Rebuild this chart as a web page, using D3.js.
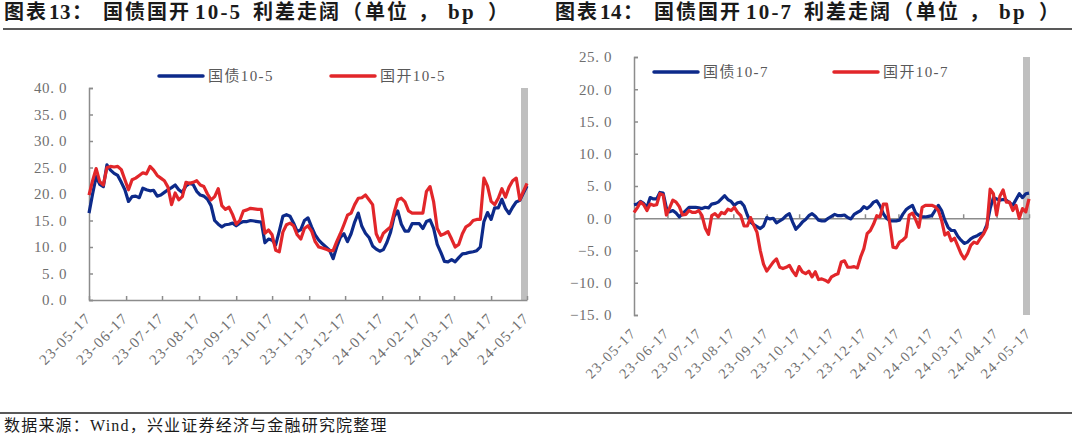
<!DOCTYPE html>
<html><head><meta charset="utf-8">
<script src="https://cdn.jsdelivr.net/npm/d3@7"></script>
<style>
html,body{margin:0;padding:0;background:#fff;}
svg{display:block;}
</style></head>
<body>
<svg id="c" width="1080" height="434"></svg>
<script>
// ---- data (sampled every 3 days from 2023-05-17 to 2024-05-17) ----
const startDate = "2023-05-17";
const endDate = "2024-05-17";
const stepDays = 3;
const tickLabels = ["23-05-17","23-06-17","23-07-17","23-08-17","23-09-17","23-10-17","23-11-17","23-12-17","24-01-17","24-02-17","24-03-17","24-04-17","24-05-17"];

const gz105 = [16.4,20.0,23.3,21.8,21.4,25.5,24.5,23.9,23.5,22.2,20.8,18.6,19.5,19.6,19.3,21.1,20.8,20.6,20.7,19.6,
19.8,20.3,20.8,21.2,21.7,20.8,20.3,21.5,22.0,21.8,20.5,19.8,19.6,19.0,17.8,15.0,14.3,13.8,14.2,14.3,
14.5,14.0,14.5,14.8,14.8,15.0,14.9,14.8,14.7,10.8,11.5,11.3,10.4,13.0,15.8,16.1,15.8,14.5,12.9,13.3,
15.0,15.5,13.8,12.3,11.3,10.6,10.0,9.4,7.8,10.0,11.8,12.5,11.0,12.5,14.7,16.4,13.9,12.6,11.8,10.2,
9.6,9.2,9.5,10.9,12.8,15.8,16.8,14.3,13.0,13.0,14.4,14.4,14.4,13.5,14.8,15.1,13.5,10.5,9.0,7.3,
7.2,7.6,7.2,8.0,8.7,8.8,9.0,9.1,9.3,10.0,14.8,16.5,15.2,17.4,17.4,19.0,17.3,16.3,17.5,18.5,
18.8,20.2,21.5];
const gk105 = [19.8,22.5,24.8,22.3,21.7,25.0,25.2,25.1,25.2,24.6,22.7,20.8,22.7,23.0,23.5,24.0,23.8,25.2,24.5,23.5,
23.0,22.5,21.3,18.0,20.2,18.9,19.5,22.2,22.0,22.2,22.5,21.7,21.4,20.0,18.9,19.5,21.0,17.8,17.1,17.5,
16.1,14.3,15.0,16.8,17.0,17.3,17.2,17.1,17.1,12.6,13.2,12.3,9.4,9.1,12.8,14.2,14.5,14.0,12.3,11.5,
13.5,14.0,13.0,11.0,10.0,9.8,9.6,9.3,9.3,11.0,12.5,14.2,16.0,16.4,18.0,19.2,19.3,19.8,18.9,18.0,
12.5,11.0,12.6,13.2,13.8,16.5,18.9,19.2,18.5,16.8,16.4,16.4,16.4,16.4,20.5,21.4,18.5,13.5,12.2,12.5,
12.9,11.5,10.0,10.5,12.5,13.8,14.2,15.0,15.2,15.2,23.0,21.5,18.6,18.0,19.2,21.0,19.4,21.3,22.5,23.0,
18.9,20.5,22.0];
const gz107 = [2.1,2.2,2.6,2.3,1.7,3.2,3.0,3.0,4.0,3.9,1.6,1.0,1.2,0.8,0.2,0.7,1.2,1.7,1.7,1.7,
1.6,1.5,1.7,1.6,2.2,2.3,2.5,3.0,3.5,2.9,2.6,2.0,2.4,2.5,1.9,0.5,-0.6,-1.0,-1.3,-1.6,
-1.2,0.1,-0.1,0.0,-0.7,-0.4,-0.1,0.4,0.7,-0.6,-1.7,-1.2,-0.6,-0.2,0.4,0.7,0.3,-0.3,-0.4,-0.4,
0.0,0.3,0.6,0.4,0.4,0.5,0.1,-0.1,0.6,0.9,1.2,1.8,1.5,1.9,2.5,2.7,1.9,0.7,0.0,-0.4,
-0.4,-0.4,-0.3,0.6,1.3,1.7,2.0,0.8,0.4,0.2,0.2,0.3,0.4,1.2,2.0,1.2,-0.3,-1.4,-1.9,-1.9,
-2.8,-3.4,-3.9,-3.7,-3.2,-2.9,-2.7,-2.4,-2.2,-1.0,1.5,3.2,3.0,2.8,2.9,2.8,2.4,2.0,2.9,3.8,
3.2,3.8,3.9];
const gk107 = [0.9,1.6,2.5,2.1,1.2,2.2,2.0,2.1,3.8,3.6,0.5,1.6,2.8,2.5,1.8,0.5,0.6,1.2,0.9,0.9,
1.2,0.4,-1.5,-2.5,0.4,0.7,0.2,0.9,0.7,1.4,1.2,1.7,0.9,0.4,-1.2,-1.2,0.1,-1.1,-2.2,-5.0,
-7.1,-8.2,-7.5,-6.8,-6.3,-7.6,-7.8,-7.6,-7.3,-8.2,-8.9,-7.5,-8.3,-8.6,-8.2,-9.1,-8.3,-9.5,-9.4,-9.6,
-9.9,-9.1,-8.8,-8.6,-6.8,-6.6,-7.6,-7.6,-7.5,-7.7,-6.0,-4.7,-2.4,-1.9,-0.9,0.4,0.2,2.2,2.2,-0.8,
-4.5,-4.6,-3.7,-3.4,-2.9,0.5,0.8,-0.2,-1.4,1.7,2.0,2.0,2.0,1.8,1.2,-0.3,-2.6,-2.2,-3.5,-3.1,
-4.3,-5.5,-6.3,-5.5,-4.2,-3.7,-3.9,-3.1,-2.4,-1.4,4.5,3.8,0.5,3.4,4.4,2.5,2.5,1.2,2.0,0.0,
1.5,1.0,3.0];

const leftTicksY = [0,5,10,15,20,25,30,35,40];
const rightTicksY = [-15,-10,-5,0,5,10,15,20,25];
const leftSeries = [{name:"国债10-5", values:gz105, color:"#0d2a8a"},{name:"国开10-5", values:gk105, color:"#e2262a"}];
const rightSeries = [{name:"国债10-7", values:gz107, color:"#0d2a8a"},{name:"国开10-7", values:gk107, color:"#e2262a"}];

// ---- setup ----
const parse = d3.timeParse("%Y-%m-%d");
const t0 = parse(startDate), t1 = parse(endDate);
const dates = gz105.map((_, i) => d3.timeDay.offset(t0, i * stepDays));
const tickDates = tickLabels.map(s => d3.timeParse("%y-%m-%d")(s));
const svg = d3.select("#c");

const SERIF = "'Liberation Serif', 'Noto Sans CJK SC', serif";
const gray = "#6f6f6f";
const axisGray = "#8c8c8c";

// titles: segments with offsets (text pieces)
function title(x0, num, spread) {
  const segs = [
    {t:"图表", dx:0, cjk:true},
    {t:num, dx:45, cjk:false},
    {t:"：", dx:68, cjk:true},
    {t:"国债国开", dx:99, cjk:true},
    {t:spread, dx:191, cjk:false, thin:true},
    {t:"利差走阔", dx:249, cjk:true},
    {t:"（", dx:338, cjk:true},
    {t:"单位", dx:361, cjk:true},
    {t:"，", dx:414, cjk:true},
    {t:"bp", dx:444, cjk:false, thin:true},
    {t:"）", dx:484, cjk:true}
  ];
  const t = svg.append("text").attr("y", 19)
    .attr("font-family", SERIF).attr("font-weight", "bold").attr("fill", "#1a1a1a");
  segs.forEach(s => {
    t.append("tspan").attr("x", x0 + s.dx)
      .attr("font-size", s.cjk ? 20 : 21)
      .attr("letter-spacing", s.cjk ? 2 : (s.thin ? 2.2 : 0.5))
      .text(s.t);
  });
}
title(4, "13", "10-5");
title(555, "14", "10-7");
svg.append("line").attr("x1", 3).attr("x2", 1072).attr("y1", 29).attr("y2", 29)
  .attr("stroke", "#222").attr("stroke-width", 1.5);
svg.append("line").attr("x1", 0).attr("x2", 1072).attr("y1", 413).attr("y2", 413)
  .attr("stroke", "#222").attr("stroke-width", 1.5);
svg.append("text").attr("x", 4).attr("y", 431).attr("font-family", SERIF)
  .attr("font-size", 16).attr("letter-spacing", 1.2).attr("fill", "#1a1a1a")
  .text("数据来源：Wind，兴业证券经济与金融研究院整理");

function yFmt(d) { return d3.format(".1f")(d).replace(".", ". "); }

function drawChart(opt) {
  const x = d3.scaleTime().domain([t0, t1]).range([opt.x0, opt.x1]);
  const y = d3.scaleLinear().domain(opt.yDomain).range([opt.yBottom, opt.yTop]);
  const g = svg.append("g");

  // highlight bar at latest date
  g.append("rect").attr("x", x(t1) - 6).attr("width", 7)
    .attr("y", y(opt.yDomain[1])).attr("height", y(opt.yDomain[0]) - y(opt.yDomain[1]))
    .attr("fill", "#bfbfbf");

  // y axis
  const ya = g.append("g").attr("transform", `translate(${opt.x0},0)`)
    .call(d3.axisRight(y).tickValues(opt.yTicks).tickSize(4).tickFormat(""));
  ya.select(".domain").attr("stroke", axisGray).attr("stroke-width", 1.5);
  ya.selectAll(".tick line").attr("stroke", axisGray).attr("stroke-width", 1.5);
  g.selectAll(".ylab").data(opt.yTicks).join("text")
    .attr("x", opt.x0 - 22).attr("y", d => y(d)).attr("dy", "0.35em")
    .attr("text-anchor", "end").attr("font-family", SERIF).attr("font-size", 15)
    .attr("letter-spacing", 0.6).attr("fill", gray).text(yFmt);

  // x axis (at zero)
  const xa = g.append("g").attr("transform", `translate(0,${y(0)})`)
    .call(d3.axisTop(x).tickValues(tickDates).tickSize(4).tickSizeOuter(0).tickFormat(""));
  xa.select(".domain").attr("stroke", axisGray).attr("stroke-width", 1.5);
  xa.selectAll(".tick line").attr("stroke", axisGray).attr("stroke-width", 1.5);
  // x labels at bottom, rotated
  g.selectAll(".xlab").data(tickDates).join("text")
    .attr("transform", (d, i) => `translate(${x(d) + 3},${opt.yBottom + 19}) rotate(-45)`)
    .attr("text-anchor", "end").attr("font-family", SERIF).attr("font-size", opt.xFont)
    .attr("letter-spacing", 1.4).attr("fill", gray)
    .text((d, i) => tickLabels[i]);

  // lines
  const line = d3.line().x((d, i) => x(dates[i])).y(d => y(d));
  opt.series.forEach(s => {
    g.append("path").datum(s.values).attr("d", line).attr("fill", "none")
      .attr("stroke", s.color).attr("stroke-width", 3.2).attr("stroke-linejoin", "round");
  });

  // legend
  opt.series.forEach((s, k) => {
    const lx = opt.legendX[k];
    g.append("line").attr("x1", lx).attr("x2", lx + 44).attr("y1", opt.legendY).attr("y2", opt.legendY)
      .attr("stroke", s.color).attr("stroke-width", 3.5).attr("stroke-linecap", "round");
    g.append("text").attr("x", lx + 49).attr("y", opt.legendY).attr("dy", "0.36em")
      .attr("font-family", SERIF).attr("font-size", 15).attr("letter-spacing", 1.4)
      .attr("fill", "#595959").text(s.name);
  });
}

drawChart({x0: 89, x1: 527, yTop: 88, yBottom: 300, yDomain: [0, 40], yTicks: leftTicksY,
  series: leftSeries, legendX: [159, 331], legendY: 76, xFont: 15});
drawChart({x0: 634, x1: 1029, yTop: 57, yBottom: 315, yDomain: [-15, 25], yTicks: rightTicksY,
  series: rightSeries, legendX: [654, 834], legendY: 72, xFont: 14.5});
</script>
</body></html>
